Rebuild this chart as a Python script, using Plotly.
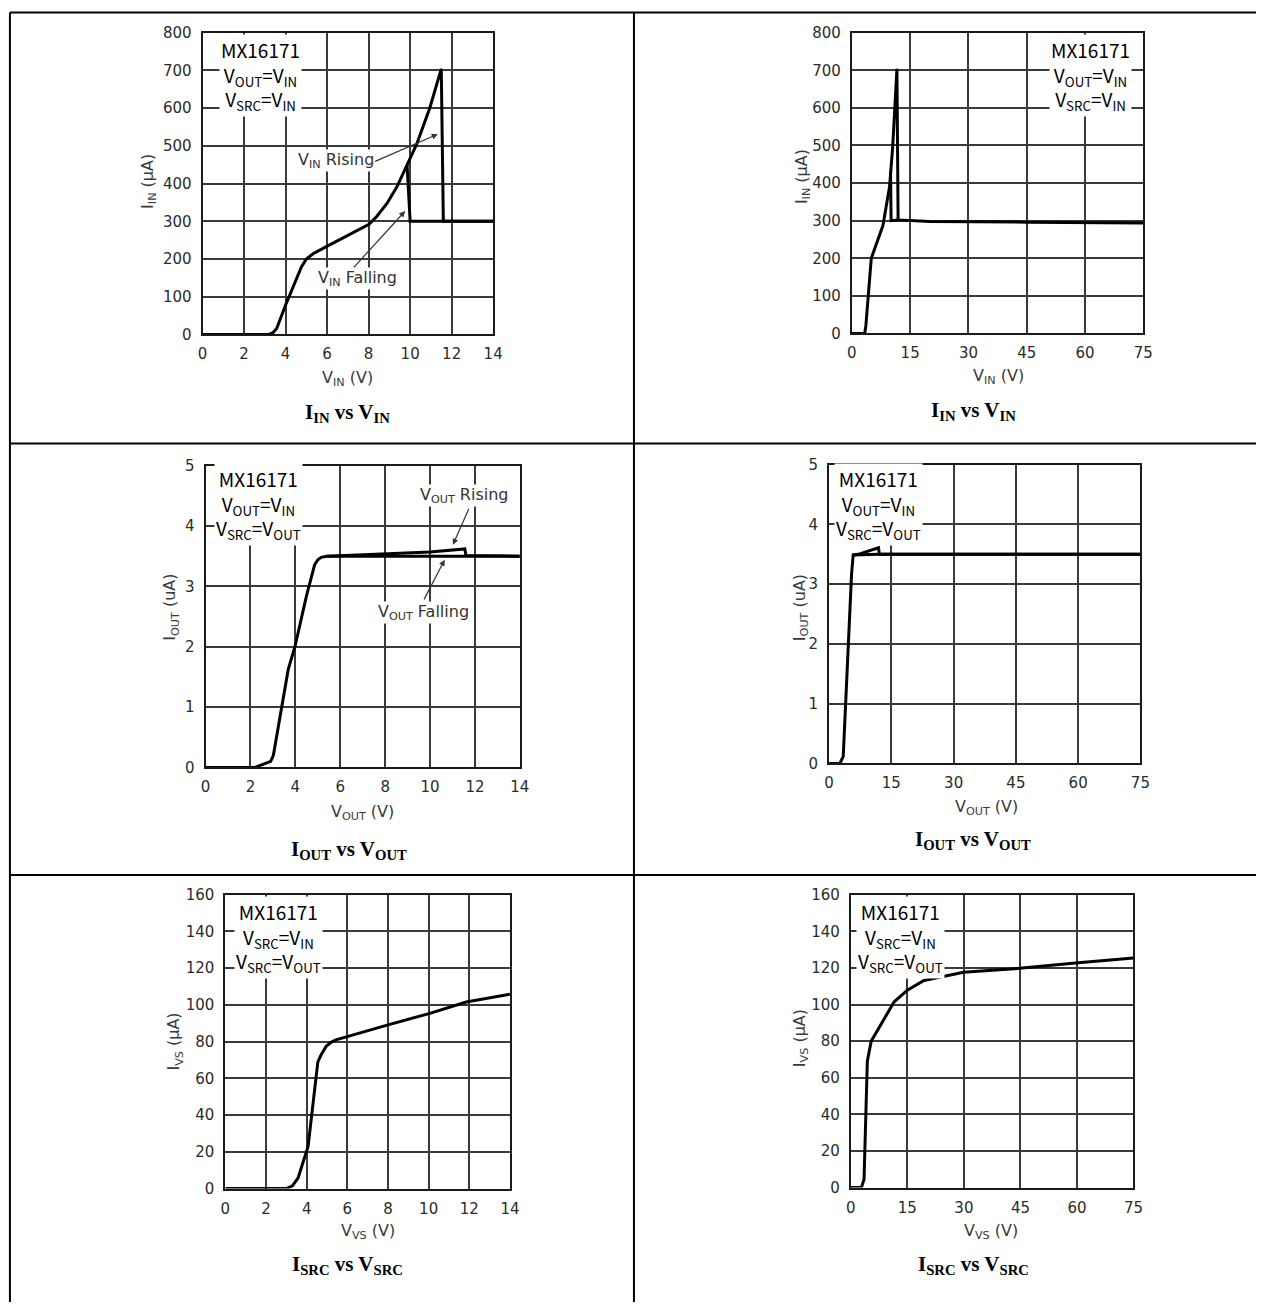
import plotly.graph_objects as go

W, H = 1266, 1311

# ---------------- data ----------------
# Chart 1: I_IN vs V_IN (0-14 V)
in14_rise_v = [0, 3.2, 3.4, 3.57, 3.97, 4.44, 4.76, 5.0, 5.32, 6.03, 7.14, 8.02, 8.41, 8.89, 9.37, 9.85, 10.32, 10.95, 11.5, 11.6, 14]
in14_rise_i = [0, 0, 5, 16, 74, 139, 179, 200, 214, 235, 266, 292, 314, 348, 392, 450, 505, 601, 704, 300, 300]
in14_fall_v = [9.85, 10.0, 14]
in14_fall_i = [450, 300, 300]

# Chart 2: I_IN vs V_IN (0-75 V)
in75_rise_v = [0, 3.3, 3.6, 5.0, 8.0, 9.7, 10.5, 11.6, 11.9, 20, 45, 75]
in75_rise_i = [0, 0, 20, 200, 287, 390, 495, 704, 302, 298, 296, 294]
in75_fall_v = [9.95, 10.1, 12]
in75_fall_i = [430, 300, 302]

# Chart 3: I_OUT vs V_OUT (0-14 V)
out14_rise_v = [0, 2.2, 2.9, 3.02, 3.68, 3.98, 4.5, 4.86, 5.0, 5.15, 5.4, 6.0, 8.0, 10.0, 11.55, 11.6, 14]
out14_rise_i = [0, 0, 0.1, 0.2, 1.62, 2.0, 2.85, 3.36, 3.44, 3.48, 3.50, 3.51, 3.54, 3.57, 3.62, 3.51, 3.5]
out14_fall_v = [5.4, 11.6, 14]
out14_fall_i = [3.50, 3.50, 3.50]

# Chart 4: I_OUT vs V_OUT (0-75 V)
out75_rise_v = [0, 2.6, 3.4, 4.2, 5.4, 5.8, 7.0, 11.9, 12.1, 75]
out75_rise_i = [0, 0, 0.12, 1.4, 3.16, 3.49, 3.5, 3.61, 3.5, 3.5]
out75_fall_v = [5.8, 12.1, 75]
out75_fall_i = [3.49, 3.5, 3.5]

# Chart 5: I_VS vs V_VS (0-14 V)
vs14_v = [0, 3.0, 3.3, 3.58, 4.07, 4.55, 4.72, 4.96, 5.2, 5.44, 7.96, 10.06, 11.85, 14]
vs14_i = [0, 0, 1.5, 5.9, 23, 69, 73, 77.5, 79.6, 81, 89, 95.4, 101.6, 105.8]

# Chart 6: I_VS vs V_VS (0-75 V)
vs75_v = [0, 2.8, 3.5, 4.37, 5.4, 8.47, 11.5, 15.0, 19.4, 29.9, 44.8, 59.6, 75]
vs75_i = [0, 0, 4.5, 69, 80, 90.7, 101.5, 107.8, 113.1, 117.6, 119.8, 122.7, 125.4]

# axis ranges / ticks
x14_ticks = [0, 2, 4, 6, 8, 10, 12, 14]
x75_ticks = [0, 15, 30, 45, 60, 75]
yin_ticks = [0, 100, 200, 300, 400, 500, 600, 700, 800]
yout_ticks = [0, 1, 2, 3, 4, 5]
yvs_ticks = [0, 20, 40, 60, 80, 100, 120, 140, 160]

captions = [
    "I<sub>IN</sub> vs V<sub>IN</sub>",
    "I<sub>IN</sub> vs V<sub>IN</sub>",
    "I<sub>OUT</sub> vs V<sub>OUT</sub>",
    "I<sub>OUT</sub> vs V<sub>OUT</sub>",
    "I<sub>SRC</sub> vs V<sub>SRC</sub>",
    "I<sub>SRC</sub> vs V<sub>SRC</sub>",
]
x_titles = ["V<sub>IN</sub> (V)", "V<sub>IN</sub> (V)", "V<sub>OUT</sub> (V)", "V<sub>OUT</sub> (V)",
            "V<sub>VS</sub> (V)", "V<sub>VS</sub> (V)"]
y_titles = ["I<sub>IN</sub> (µA)", "I<sub>IN</sub> (µA)", "I<sub>OUT</sub> (uA)", "I<sub>OUT</sub> (uA)",
            "I<sub>VS</sub> (µA)", "I<sub>VS</sub> (µA)"]
box_texts = [
    "MX16171<br>V<sub>OUT</sub>=V<sub>IN</sub><br>V<sub>SRC</sub>=V<sub>IN</sub>",
    "MX16171<br>V<sub>OUT</sub>=V<sub>IN</sub><br>V<sub>SRC</sub>=V<sub>IN</sub>",
    "MX16171<br>V<sub>OUT</sub>=V<sub>IN</sub><br>V<sub>SRC</sub>=V<sub>OUT</sub>",
    "MX16171<br>V<sub>OUT</sub>=V<sub>IN</sub><br>V<sub>SRC</sub>=V<sub>OUT</sub>",
    "MX16171<br>V<sub>SRC</sub>=V<sub>IN</sub><br>V<sub>SRC</sub>=V<sub>OUT</sub>",
    "MX16171<br>V<sub>SRC</sub>=V<sub>IN</sub><br>V<sub>SRC</sub>=V<sub>OUT</sub>",
]

# ---------------- layout geometry (pixels) ----------------
plots = [  # left, right, top, bottom
    (200, 494, 24, 330),
    (857, 1152, 24, 329),
    (203, 521, 463, 769),
    (834, 1149, 462, 765),
    (223, 511, 898, 1196),
    (856, 1142, 898, 1195),
]
xranges = [[0, 14], [0, 75], [0, 14], [0, 75], [0, 14], [0, 75]]
yranges = [[0, 800], [0, 800], [0, 5], [0, 5], [0, 160], [0, 160]]
xticks = [x14_ticks, x75_ticks, x14_ticks, x75_ticks, x14_ticks, x75_ticks]
yticks = [yin_ticks, yin_ticks, yout_ticks, yout_ticks, yvs_ticks, yvs_ticks]
caption_pos = [(347, 410), (980, 408), (348, 853), (980, 843), (347, 1273), (980, 1273)]
xtitle_pos = [(347, 375), (1005, 373), (362, 815), (993, 810), (367, 1240), (998, 1240)]
ytitle_pos = [(145, 175), (807, 170), (168, 607), (805, 607), (172, 1047), (805, 1043)]
box_pos = [(259, 67), (1099, 67), (257, 502), (884, 502), (277, 941), (906, 941)]


def px(x):
    return x / W


def py(y):
    return 1 - y / H


fig = go.Figure()

series = [
    [(in14_rise_v, in14_rise_i), (in14_fall_v, in14_fall_i)],
    [(in75_rise_v, in75_rise_i), (in75_fall_v, in75_fall_i)],
    [(out14_rise_v, out14_rise_i), (out14_fall_v, out14_fall_i)],
    [(out75_rise_v, out75_rise_i), (out75_fall_v, out75_fall_i)],
    [(vs14_v, vs14_i)],
    [(vs75_v, vs75_i)],
]

tick_font = dict(family="DejaVu Sans", size=15, color="#2b2b2b")
label_font = dict(family="DejaVu Sans", size=16, color="#3a3a3a")

annotations = []
for k in range(6):
    n = "" if k == 0 else str(k + 1)
    l, r, t, b = plots[k]
    for xs, ys in series[k]:
        fig.add_trace(go.Scatter(x=xs, y=ys, mode="lines", xaxis="x" + n, yaxis="y" + n,
                                 line=dict(color="#000000", width=3), showlegend=False,
                                 hoverinfo="skip"))
    common = dict(showgrid=True, gridcolor="#3a3a3a", gridwidth=1.6, zeroline=False,
                  showline=True, mirror=True, linecolor="#1a1a1a", linewidth=2,
                  ticks="", ticklen=0, tickfont=tick_font, fixedrange=True)
    fig.update_layout(**{
        "xaxis" + n: dict(domain=[px(l), px(r)], range=xranges[k], tickmode="array",
                          tickvals=xticks[k], anchor="y" + n, ticklabelstandoff=5, **common),
        "yaxis" + n: dict(domain=[py(b), py(t)], range=yranges[k], tickmode="array",
                          tickvals=yticks[k], anchor="x" + n, ticklabelstandoff=6, **common),
    })
    cx, cy = caption_pos[k]
    annotations.append(dict(x=px(cx), y=py(cy), xref="paper", yref="paper", text="<b>" + captions[k] + "</b>",
                            showarrow=False, font=dict(family="Liberation Serif", size=21, color="#000000"),
                            xanchor="center", yanchor="middle"))
    tx, ty = xtitle_pos[k]
    annotations.append(dict(x=px(tx), y=py(ty), xref="paper", yref="paper", text=x_titles[k],
                            showarrow=False, font=label_font, xanchor="center", yanchor="middle"))
    tx, ty = ytitle_pos[k]
    annotations.append(dict(x=px(tx), y=py(ty), xref="paper", yref="paper", text=y_titles[k],
                            showarrow=False, font=label_font, textangle=-90,
                            xanchor="center", yanchor="middle"))
    bx, by = box_pos[k]
    annotations.append(dict(x=px(bx), y=py(by), xref="paper", yref="paper", text=box_texts[k],
                            showarrow=False, bgcolor="#ffffff", borderpad=1,
                            font=dict(family="Noto Sans CJK SC", size=19, color="#000000"),
                            xanchor="center", yanchor="middle", align="center"))

# in-plot callouts (data coordinates)
callouts = [
    # axis id, text, text x, text y, arrow tail x, tail y, head x, head y
    ("", "V<sub>IN</sub> Rising", 6.43, 460, 8.24, 457, 11.33, 531),
    ("", "V<sub>IN</sub> Falling", 7.46, 148, 7.22, 174, 9.76, 327),
    ("3", "V<sub>OUT</sub> Rising", 11.55, 4.5, 11.76, 4.31, 11.02, 3.69),
    ("3", "V<sub>OUT</sub> Falling", 9.70, 2.57, 9.70, 2.76, 10.65, 3.44),
]
for ax_id, txt, tx, ty, ax0, ay0, hx, hy in callouts:
    annotations.append(dict(x=tx, y=ty, xref="x" + ax_id, yref="y" + ax_id, text=txt, showarrow=False,
                            bgcolor="#ffffff", borderpad=0, font=dict(family="DejaVu Sans", size=16, color="#333333"),
                            xanchor="center", yanchor="middle"))
    annotations.append(dict(x=hx, y=hy, xref="x" + ax_id, yref="y" + ax_id, ax=ax0, ay=ay0,
                            axref="x" + ax_id, ayref="y" + ax_id, text="", showarrow=True,
                            arrowhead=2, arrowsize=1, arrowwidth=1.2, arrowcolor="#333333"))

# table borders
shapes = []
line = dict(color="#000000", width=2)
left_x, top_y = 5, 3.5
shapes.append(dict(type="line", xref="paper", yref="paper", x0=px(left_x), x1=px(left_x), y0=py(top_y), y1=0, line=line))
shapes.append(dict(type="line", xref="paper", yref="paper", x0=px(left_x), x1=1, y0=py(top_y), y1=py(top_y), line=line))
shapes.append(dict(type="line", xref="paper", yref="paper", x0=px(636.5), x1=px(636.5), y0=py(top_y), y1=0, line=line))
shapes.append(dict(type="line", xref="paper", yref="paper", x0=px(left_x), x1=1, y0=py(440.5), y1=py(440.5), line=line))
shapes.append(dict(type="line", xref="paper", yref="paper", x0=px(left_x), x1=1, y0=py(878), y1=py(878), line=line))

fig.update_layout(
    width=W, height=H, autosize=False,
    margin=dict(l=0, r=0, t=0, b=0, pad=0),
    paper_bgcolor="#ffffff", plot_bgcolor="#ffffff",
    showlegend=False,
    annotations=annotations,
    shapes=shapes,
)

fig.write_html("out.html", config={"displayModeBar": False})
